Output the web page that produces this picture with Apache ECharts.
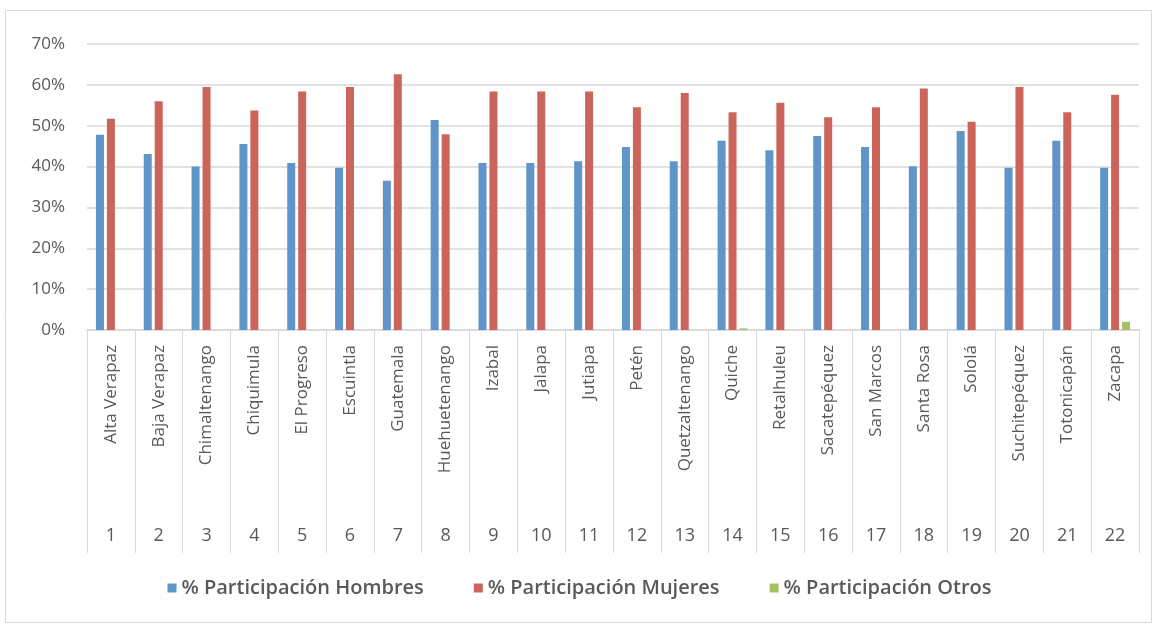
<!DOCTYPE html>
<html>
<head>
<meta charset="utf-8">
<script src="https://cdn.jsdelivr.net/npm/echarts@6/dist/echarts.min.js"></script>
<style>
  html, body { margin: 0; padding: 0; background: #fff; }
  #main { width: 1159px; height: 629px; }
</style>
</head>
<body>
<div id="main"></div>
<script>
// departamentos
const aDeptos = ['Alta Verapaz', 'Baja Verapaz', 'Chimaltenango', 'Chiquimula', 'El Progreso', 'Escuintla',
    'Guatemala', 'Huehuetenango', 'Izabal', 'Jalapa', 'Jutiapa', 'Petén', 'Quetzaltenango', 'Quiche',
    'Retalhuleu', 'Sacatepéquez', 'San Marcos', 'Santa Rosa', 'Sololá', 'Suchitepéquez', 'Totonicapán', 'Zacapa'];
const aNumeros = aDeptos.map((cur, i) => String(i + 1));

// % participacion
const aHombres = [47.8, 43.1, 40.0, 45.5, 40.9, 39.7, 36.5, 51.4, 40.9, 40.9, 41.3,
    44.8, 41.3, 46.3, 44.0, 47.5, 44.8, 40.1, 48.7, 39.7, 46.3, 39.7];
const aMujeres = [51.7, 56.0, 59.5, 53.7, 58.4, 59.5, 62.6, 47.9, 58.4, 58.4, 58.4,
    54.5, 58.0, 53.3, 55.6, 52.1, 54.5, 59.1, 51.0, 59.5, 53.3, 57.6];
const aOtros = [null, null, null, null, null, null, null, null, null, null, null,
    null, null, 0.4, null, null, null, null, null, null, null, 2.0];

const sGris = '#595959';
const sLinea = '#d9d9d9';
const sFont = 'Open Sans';

const oBar = {
    type: 'bar',
    barWidth: 8,
    barGap: '37%',
};

const myChart = echarts.init(document.getElementById('main'));
const option = {
    animation: false,
    backgroundColor: '#fff',
    textStyle: { fontFamily: sFont },
    graphic: [{
        type: 'rect',
        shape: { x: 5.5, y: 10.5, width: 1146, height: 612 },
        style: { fill: 'none', stroke: '#d9d9d9', lineWidth: 1 },
        silent: true,
    }],
    grid: { left: 87, right: 20, top: 44, bottom: 299 },
    legend: {
        bottom: 26,
        left: 'center',
        itemWidth: 9,
        itemHeight: 9,
        itemGap: 50,
        icon: 'rect',
        textStyle: { color: sGris, fontSize: 20, fontWeight: 600, fontFamily: sFont },
    },
    yAxis: {
        type: 'value',
        min: 0,
        max: 70,
        interval: 10,
        axisLine: { show: false },
        axisTick: { show: false },
        axisLabel: { formatter: '{value}%', color: sGris, fontSize: 17, margin: 22 },
        splitLine: { lineStyle: { color: sLinea, width: 1.5 } },
    },
    xAxis: [{
        type: 'category',
        data: aDeptos,
        axisLine: { show: true, lineStyle: { color: sLinea, width: 1.5 } },
        axisTick: { show: true, interval: 0, length: 223, lineStyle: { color: sLinea, width: 1 } },
        axisLabel: { interval: 0, rotate: 90, color: sGris, fontSize: 17, margin: 15 },
    }, {
        type: 'category',
        data: aNumeros,
        position: 'bottom',
        offset: 190,
        axisLine: { show: false },
        axisTick: { show: false },
        axisLabel: { interval: 0, color: sGris, fontSize: 18, margin: 7 },
    }],
    series: [
        { ...oBar, name: '% Participación Hombres', data: aHombres, itemStyle: { color: '#6095c9' } },
        { ...oBar, name: '% Participación Mujeres', data: aMujeres, itemStyle: { color: '#cc645c' } },
        { ...oBar, name: '% Participación Otros', data: aOtros, itemStyle: { color: '#a5c261' } },
    ],
};
myChart.setOption(option);
</script>
</body>
</html>
